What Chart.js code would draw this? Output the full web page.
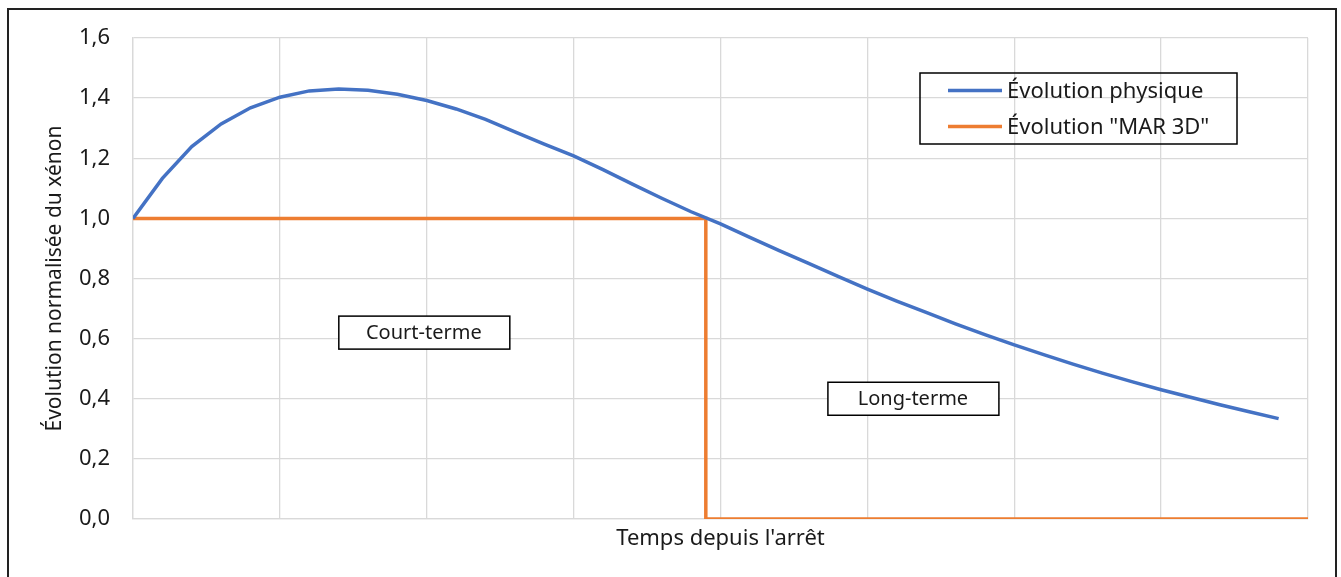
<!DOCTYPE html>
<html lang="fr">
<head>
<meta charset="utf-8">
<title>Évolution normalisée du xénon</title>
<script src="https://cdn.jsdelivr.net/npm/chart.js@4.4.1/dist/chart.umd.min.js"></script>
<style>
  html, body { margin: 0; padding: 0; background: #fff; }
  #wrap { width: 1341px; height: 577px; }
</style>
</head>
<body>
<div id="wrap"><canvas id="chart" width="1341" height="577"></canvas></div>
<script>
// Data (x in time steps, y normalised xenon)
const physSteps = [0, 1, 2, 3, 4, 5, 6, 7, 8, 9, 10, 11, 12, 13, 14, 15, 16, 17, 18, 19,
  20, 21, 22, 23, 24, 25, 26, 27, 28, 29, 30, 31, 32, 33, 34, 35, 36, 37, 38, 39];
const physValues = [1.000, 1.133, 1.239, 1.314, 1.368, 1.403, 1.424, 1.430, 1.426, 1.413,
  1.392, 1.364, 1.329, 1.288, 1.247, 1.208, 1.162, 1.114, 1.067, 1.022,
  0.982, 0.937, 0.893, 0.850, 0.807, 0.765, 0.725, 0.687, 0.649, 0.613,
  0.579, 0.547, 0.515, 0.485, 0.457, 0.430, 0.405, 0.380, 0.357, 0.334];
const marSteps = [0, 19.5, 19.5, 40];
const marValues = [1, 1, 0, 0];

const seriesLabels = ['Évolution physique', 'Évolution "MAR 3D"'];
const seriesColors = ['#4472C4', '#ED7D31'];
const yTicks = [0, 0.2, 0.4, 0.6, 0.8, 1.0, 1.2, 1.4, 1.6];

// Zone text boxes: [label, x step, y value]
const zoneLabels = ['Court-terme', 'Long-terme'];
const zoneX = [9.9, 26.55];
const zoneY = [0.62, 0.40];

const FONT = "'Noto Sans', 'Open Sans', sans-serif";
const TEXT = '#1a1a1a';
const GRID = '#d9d9d9';

function toPoints(xs, ys) {
  return xs.map((x, i) => ({ x: x, y: ys[i] }));
}

// Background, outer frame, custom legend and zone boxes
const decorPlugin = {
  id: 'decor',
  beforeDraw(chart) {
    const ctx = chart.ctx;
    ctx.save();
    ctx.fillStyle = '#fff';
    ctx.fillRect(0, 0, chart.width, chart.height);
    ctx.restore();
  },
  afterDraw(chart) {
    const ctx = chart.ctx;
    const area = chart.chartArea;
    const xs = chart.scales.x;
    const ys = chart.scales.y;
    ctx.save();

    // outer frame
    ctx.strokeStyle = '#222';
    ctx.lineWidth = 2;
    ctx.strokeRect(8, 9, 1328, 700);

    // legend
    const lx = area.right - 388;
    const ly = area.top + 35;
    ctx.lineWidth = 1.5;
    ctx.strokeStyle = '#000';
    ctx.strokeRect(lx, ly, 317, 71);
    ctx.font = '22px ' + FONT;
    ctx.textBaseline = 'middle';
    ctx.textAlign = 'left';
    seriesLabels.forEach((label, i) => {
      const cy = ly + 17.5 + i * 36;
      ctx.strokeStyle = seriesColors[i];
      ctx.lineWidth = 3.5;
      ctx.beginPath();
      ctx.moveTo(lx + 28, cy);
      ctx.lineTo(lx + 82, cy);
      ctx.stroke();
      ctx.fillStyle = TEXT;
      ctx.fillText(label, lx + 87, cy + 1);
    });

    // zone boxes
    zoneLabels.forEach((label, i) => {
      const cx = xs.getPixelForValue(zoneX[i]);
      const cy = ys.getPixelForValue(zoneY[i]);
      ctx.fillStyle = '#fff';
      ctx.fillRect(cx - 85, cy - 16.5, 171, 33);
      ctx.strokeStyle = '#000';
      ctx.lineWidth = 1.5;
      ctx.strokeRect(cx - 85, cy - 16.5, 171, 33);
      ctx.fillStyle = TEXT;
      ctx.textAlign = 'center';
      ctx.font = '20px ' + FONT;
      ctx.fillText(label, cx, cy + 1);
    });
    ctx.restore();
  }
};

new Chart(document.getElementById('chart'), {
  type: 'scatter',
  data: {
    datasets: [
      {
        label: seriesLabels[0],
        data: toPoints(physSteps, physValues),
        showLine: true,
        borderColor: seriesColors[0],
        backgroundColor: seriesColors[0],
        borderWidth: 3.5,
        pointRadius: 0,
        tension: 0,
        order: 1
      },
      {
        label: seriesLabels[1],
        data: toPoints(marSteps, marValues),
        showLine: true,
        borderColor: seriesColors[1],
        backgroundColor: seriesColors[1],
        borderWidth: 3.5,
        pointRadius: 0,
        tension: 0,
        order: 2
      }
    ]
  },
  options: {
    responsive: false,
    animation: false,
    layout: { padding: { left: 0, top: 38, right: 33, bottom: 0 } },
    plugins: {
      legend: { display: false },
      tooltip: { enabled: false }
    },
    scales: {
      x: {
        type: 'linear',
        min: 0,
        max: 40,
        afterFit(scale) { scale.height = 58; },
        ticks: { display: false, stepSize: 5 },
        grid: { color: GRID, lineWidth: 1.3, drawTicks: false },
        border: { color: GRID, width: 1.3 },
        title: {
          display: true,
          text: 'Temps depuis l\'arrêt',
          color: TEXT,
          font: { family: FONT, size: 22 },
          padding: { top: 0, bottom: 25 }
        }
      },
      y: {
        min: 0,
        max: 1.6,
        afterFit(scale) { scale.width = 133; },
        afterBuildTicks(scale) { scale.ticks = yTicks.map(v => ({ value: v })); },
        ticks: {
          color: TEXT,
          padding: 23,
          font: { family: FONT, size: 22 },
          callback: v => v.toFixed(1).replace('.', ',')
        },
        grid: { color: GRID, lineWidth: 1.3, drawTicks: false },
        border: { color: GRID, width: 1.3 },
        title: {
          display: true,
          text: 'Évolution normalisée du xénon',
          color: TEXT,
          font: { family: FONT, size: 21 },
          padding: { top: 42, bottom: 0 }
        }
      }
    }
  },
  plugins: [decorPlugin]
});
</script>
</body>
</html>
